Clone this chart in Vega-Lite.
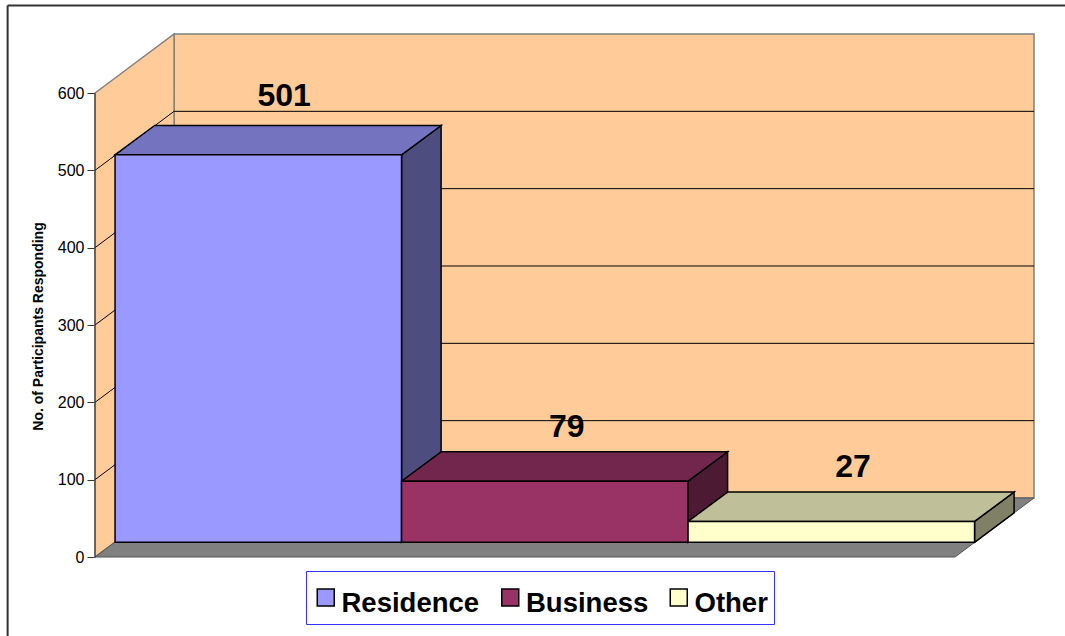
{
  "$schema": "https://vega.github.io/schema/vega-lite/v6.json",
  "width": 939,
  "height": 523,
  "autosize": {"type": "none"},
  "padding": {"left": 95, "top": 34, "right": 31, "bottom": 79},
  "background": "#FFFFFF",
  "config": {"view": {"stroke": null}, "font": "Liberation Sans"},
  "datasets": {
    "frame": [
      {"edge": "top", "x0": -30.5, "x1": 338.6, "y0": 713.2, "y1": 713.2},
      {"edge": "left", "x0": -30.5, "x1": -30.5, "y0": 713.2, "y1": -102}
    ],
    "wall": [
      {"x0": 27.6, "x1": 327.75, "y0": 76.3, "y1": 676.3}
    ],
    "sideWall": [
      {"x": 0, "low": 0, "high": 600},
      {"x": 27.6, "low": 76.3, "high": 676.3}
    ],
    "floor": [
      {"y": 0, "x0": 0, "x1": 300.2},
      {"y": 76.3, "x0": 27.6, "x1": 327.75}
    ],
    "grid": [
      {"tick": 100, "x0": 0, "x1": 27.6, "y0": 100, "y1": 176.3},
      {"tick": 200, "x0": 0, "x1": 27.6, "y0": 200, "y1": 276.3},
      {"tick": 300, "x0": 0, "x1": 27.6, "y0": 300, "y1": 376.3},
      {"tick": 400, "x0": 0, "x1": 27.6, "y0": 400, "y1": 476.3},
      {"tick": 500, "x0": 0, "x1": 27.6, "y0": 500, "y1": 576.3},
      {"tick": 100, "x0": 27.6, "x1": 327.75, "y0": 176.3, "y1": 176.3},
      {"tick": 200, "x0": 27.6, "x1": 327.75, "y0": 276.3, "y1": 276.3},
      {"tick": 300, "x0": 27.6, "x1": 327.75, "y0": 376.3, "y1": 376.3},
      {"tick": 400, "x0": 27.6, "x1": 327.75, "y0": 476.3, "y1": 476.3},
      {"tick": 500, "x0": 27.6, "x1": 327.75, "y0": 576.3, "y1": 576.3}
    ],
    "axisLine": [
      {"x": 0, "y0": 0, "y1": 600}
    ],
    "bars": [
      {"category": "Residence", "value": 501, "left": 7, "right": 107, "base": 19, "top": 520, "labelX": 66, "labelY": 596},
      {"category": "Business", "value": 79, "left": 107, "right": 207, "base": 19, "top": 98, "labelX": 164.7, "labelY": 168},
      {"category": "Other", "value": 27, "left": 207, "right": 307, "base": 19, "top": 46, "labelX": 264.6, "labelY": 116.4}
    ],
    "sides": [
      {"face": "Residence side", "x": 107, "low": 19, "high": 520},
      {"face": "Residence side", "x": 120.8, "low": 57, "high": 558},
      {"face": "Business side", "x": 207, "low": 19, "high": 98},
      {"face": "Business side", "x": 220.8, "low": 57, "high": 136},
      {"face": "Other side", "x": 307, "low": 19, "high": 46},
      {"face": "Other side", "x": 320.8, "low": 57, "high": 84}
    ],
    "tops": [
      {"face": "Residence top", "y": 520, "x0": 7, "x1": 107},
      {"face": "Residence top", "y": 558, "x0": 20.8, "x1": 120.8},
      {"face": "Business top", "y": 98, "x0": 107, "x1": 207},
      {"face": "Business top", "y": 136, "x0": 120.8, "x1": 220.8},
      {"face": "Other top", "y": 46, "x0": 207, "x1": 307},
      {"face": "Other top", "y": 84, "x0": 220.8, "x1": 320.8}
    ]
  },
  "layer": [
    {
      "data": {"name": "wall"},
      "mark": {"type": "rect", "fill": "#FFCC99", "stroke": "#808080", "strokeWidth": 1.5},
      "encoding": {
        "x": {"field": "x0", "type": "quantitative", "axis": null, "scale": {"domain": [0, 327.75], "nice": false, "zero": false}},
        "x2": {"field": "x1"},
        "y": {
          "field": "y0",
          "type": "quantitative",
          "scale": {"domain": [0, 676.3], "nice": false, "zero": false},
          "axis": {
            "values": [0, 100, 200, 300, 400, 500, 600],
            "domain": false,
            "grid": false,
            "tickSize": 8,
            "tickColor": "#333333",
            "tickWidth": 1,
            "labelPadding": 3,
            "labelFont": "Liberation Sans",
            "labelFontSize": 16,
            "labelColor": "#000000",
            "title": "No. of Participants Responding",
            "titleFont": "Liberation Sans",
            "titleFontSize": 14,
            "titleFontWeight": "bold",
            "titleColor": "#000000",
            "titleAngle": -90,
            "titleAlign": "center",
            "titleBaseline": "middle",
            "titleX": -57,
            "titleY": 292
          }
        },
        "y2": {"field": "y1"}
      }
    },
    {
      "data": {"name": "sideWall"},
      "mark": {"type": "area", "orient": "vertical", "fill": "#FFCC99", "stroke": "#808080", "strokeWidth": 1.5},
      "encoding": {
        "x": {"field": "x", "type": "quantitative", "axis": null},
        "y": {"field": "low", "type": "quantitative"},
        "y2": {"field": "high"}
      }
    },
    {
      "data": {"name": "floor"},
      "mark": {"type": "area", "orient": "horizontal", "fill": "#808080", "stroke": "#555555", "strokeWidth": 1},
      "encoding": {
        "y": {"field": "y", "type": "quantitative"},
        "x": {"field": "x0", "type": "quantitative", "axis": null},
        "x2": {"field": "x1"}
      }
    },
    {
      "data": {"name": "grid"},
      "mark": {"type": "rule", "stroke": "#000000", "strokeWidth": 1},
      "encoding": {
        "x": {"field": "x0", "type": "quantitative", "axis": null},
        "x2": {"field": "x1"},
        "y": {"field": "y0", "type": "quantitative"},
        "y2": {"field": "y1"},
        "detail": {"field": "tick"}
      }
    },
    {
      "data": {"name": "axisLine"},
      "mark": {"type": "rule", "stroke": "#333333", "strokeWidth": 1},
      "encoding": {
        "x": {"field": "x", "type": "quantitative", "axis": null},
        "y": {"field": "y0", "type": "quantitative"},
        "y2": {"field": "y1"}
      }
    },
    {
      "data": {"name": "frame"},
      "mark": {"type": "rule", "stroke": "#333333", "strokeWidth": 2},
      "encoding": {
        "x": {"field": "x0", "type": "quantitative", "axis": null},
        "x2": {"field": "x1"},
        "y": {"field": "y0", "type": "quantitative"},
        "y2": {"field": "y1"},
        "detail": {"field": "edge"}
      }
    },
    {
      "data": {"name": "sides"},
      "mark": {"type": "area", "orient": "vertical", "stroke": "#000000", "strokeWidth": 1.5, "opacity": 1},
      "encoding": {
        "x": {"field": "x", "type": "quantitative", "axis": null},
        "y": {"field": "low", "type": "quantitative"},
        "y2": {"field": "high"},
        "detail": {"field": "face"},
        "color": {"field": "face", "type": "nominal"}
      }
    },
    {
      "data": {"name": "tops"},
      "mark": {"type": "area", "orient": "horizontal", "stroke": "#000000", "strokeWidth": 1.5, "opacity": 1},
      "encoding": {
        "y": {"field": "y", "type": "quantitative"},
        "x": {"field": "x0", "type": "quantitative", "axis": null},
        "x2": {"field": "x1"},
        "detail": {"field": "face"},
        "color": {"field": "face", "type": "nominal"}
      }
    },
    {
      "data": {"name": "bars"},
      "mark": {"type": "rect", "stroke": "#000000", "strokeWidth": 1.5, "opacity": 1},
      "encoding": {
        "x": {"field": "left", "type": "quantitative", "axis": null},
        "x2": {"field": "right"},
        "y": {"field": "base", "type": "quantitative"},
        "y2": {"field": "top"},
        "color": {
          "field": "category",
          "type": "nominal",
          "scale": {
            "domain": ["Residence", "Business", "Other", "Residence top", "Business top", "Other top", "Residence side", "Business side", "Other side"],
            "range": ["#9999FF", "#993366", "#FFFFCC", "#7373BF", "#73264D", "#BFBF99", "#4D4D80", "#4D1A33", "#808066"]
          },
          "legend": {
            "values": ["Residence", "Business", "Other"],
            "title": null,
            "orient": "none",
            "legendX": 211,
            "legendY": 537,
            "direction": "horizontal",
            "columns": 3,
            "columnPadding": 16.5,
            "padding": 6,
            "clipHeight": 41,
            "fillColor": "#FFFFFF",
            "strokeColor": "#3333FF",
            "symbolType": "square",
            "symbolSize": 289,
            "symbolStrokeColor": "#000000",
            "symbolStrokeWidth": 1.5,
            "symbolOpacity": 1,
            "labelFont": "Liberation Sans",
            "labelFontSize": 27.5,
            "labelFontWeight": "bold",
            "labelColor": "#000000",
            "labelOffset": 2,
            "labelLimit": 300,
            "encoding": {"labels": {"dy": {"value": 6}}}
          }
        }
      }
    },
    {
      "data": {"name": "bars"},
      "mark": {"type": "text", "font": "Liberation Sans", "fontSize": 32, "fontWeight": "bold", "color": "#000000", "align": "center", "baseline": "middle"},
      "encoding": {
        "x": {"field": "labelX", "type": "quantitative", "axis": null},
        "y": {"field": "labelY", "type": "quantitative"},
        "text": {"field": "value", "type": "quantitative"}
      }
    }
  ]
}
